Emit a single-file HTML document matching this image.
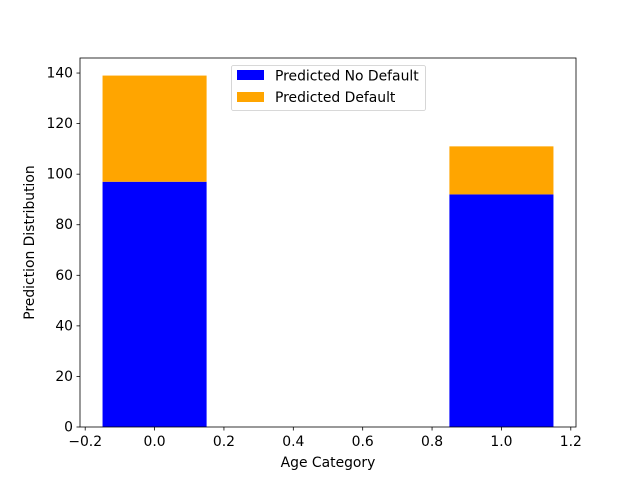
<!DOCTYPE html>
<html><head><meta charset="utf-8"><style>
body{margin:0;background:#fff;}
svg text{font-family:"DejaVu Sans","Liberation Sans",sans-serif;font-size:13.9px;fill:#000;}
</style></head><body>
<svg id="c" width="640" height="480" xmlns="http://www.w3.org/2000/svg"></svg>
<script>
const categories=[0,1];
const noDefault=[97,92];
const predDefault=[42,19];
const xTicks=[-0.2,0.0,0.2,0.4,0.6,0.8,1.0,1.2];
const yTicks=[0,20,40,60,80,100,120,140];
const L=80,R=576,T=58,B=427,W=0.3;
const xmin=-0.15-0.065,xmax=1.15+0.065;
const ymax=Math.max(...categories.map((c,i)=>noDefault[i]+predDefault[i]))*1.05;
const sx=v=>L+(v-xmin)/(xmax-xmin)*(R-L);
const sy=v=>B-v/ymax*(B-T);
const svg=document.getElementById('c');
const NS='http://www.w3.org/2000/svg';
function mk(t,a,p){const e=document.createElementNS(NS,t);for(const k in a)e.setAttribute(k,a[k]);(p||svg).appendChild(e);return e;}
categories.forEach((c,i)=>{
  let r=mk('rect',{x:sx(c-W/2),y:sy(noDefault[i]),width:sx(c+W/2)-sx(c-W/2),height:sy(0)-sy(noDefault[i]),fill:'#0000ff'});
  
  
  let top=noDefault[i]+predDefault[i];
  let r2=mk('rect',{x:sx(c-W/2),y:sy(top),width:sx(c+W/2)-sx(c-W/2),height:sy(noDefault[i])-sy(top),fill:'#ffa500'});
  
  
});
const frame=mk('rect',{x:L,y:T,width:R-L,height:B-T,fill:'none',stroke:'#000','stroke-width':0.8});


xTicks.forEach(v=>{
  mk('line',{x1:sx(v),x2:sx(v),y1:B,y2:B+3.5,stroke:'#000','stroke-width':0.8});
  const t=mk('text',{x:sx(v),y:B+19,'text-anchor':'middle'});t.textContent=v.toFixed(1).replace('-','\u2212');
  
  
});
yTicks.forEach(v=>{
  mk('line',{x1:L-3.5,x2:L,y1:sy(v),y2:sy(v),stroke:'#000','stroke-width':0.8});
  const t=mk('text',{x:L-7,y:sy(v)+4.5,'text-anchor':'end'});t.textContent=v;
  
  
});
const xt=mk('text',{x:(L+R)/2,y:467,'text-anchor':'middle'});xt.textContent='Age Category';


const yt=mk('text',{x:34,y:(T+B)/2,'text-anchor':'middle',transform:`rotate(-90 34 ${(T+B)/2})`});yt.textContent='Prediction Distribution';


const lg=mk('g',{});


mk('rect',{x:231.5,y:65.5,width:194,height:45,rx:2,fill:'#fff',stroke:'#ccc','stroke-width':0.8},lg);
mk('rect',{x:237,y:70,width:27,height:10,fill:'#0000ff'},lg);
mk('rect',{x:237,y:92,width:27,height:10,fill:'#ffa500'},lg);
const l1=mk('text',{x:275,y:80.5},lg);l1.textContent='Predicted No Default';


const l2=mk('text',{x:275,y:102},lg);l2.textContent='Predicted Default';


</script>
</body></html>
